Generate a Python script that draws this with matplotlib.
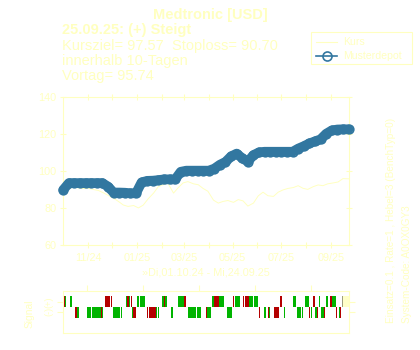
import matplotlib
matplotlib.use("Agg")
import matplotlib.pyplot as plt
from matplotlib.patches import Rectangle
from matplotlib.lines import Line2D
import datetime as dt

plt.rcParams['font.family'] = ['Liberation Sans', 'DejaVu Sans']

# ---------------- data ----------------
start_date = dt.date(2024, 10, 1)
end_date = dt.date(2025, 9, 24)

kurs_days = [0, 6, 12, 19, 25, 31, 38, 44, 50, 56, 63, 69, 75, 81, 88, 94, 100, 106,
             113, 119, 125, 131, 138, 144, 150, 156, 163, 169, 175, 181, 188, 194, 200,
             206, 213, 219, 225, 231, 238, 244, 250, 256, 263, 269, 275, 281, 288, 294,
             300, 306, 313, 319, 325, 331, 338, 344, 350, 357]
kurs_values = [88.5, 90.0, 91.3, 90.8, 90.4, 90.6, 89.9, 89.4, 88.2, 86.8, 85.2, 83.5,
               81.6, 80.8, 81.3, 80.0, 81.5, 84.8, 88.0, 91.5, 92.5, 93.3, 88.0, 91.0,
               93.5, 94.2, 93.0, 92.5, 90.5, 89.0, 84.2, 82.6, 83.5, 84.0, 83.0, 84.5,
               83.8, 81.0, 82.6, 86.5, 88.5, 86.6, 86.2, 88.5, 89.7, 90.5, 91.0, 92.0,
               90.6, 90.0, 91.5, 92.4, 92.0, 93.0, 93.5, 94.0, 95.8, 95.7]

depot_days = list(range(0, 358, 7))
depot_values = [89.8, 93.4, 93.4, 93.4, 93.4, 93.4, 93.4, 93.4,
                91.5, 88.3, 88.3, 88.2, 87.9, 87.9,
                93.8, 94.6, 94.7, 95.0, 95.4, 95.4, 95.4,
                99.5, 100.1, 100.1, 100.1, 100.1, 100.1,
                101.2, 103.3, 104.8, 107.8, 109.3, 106.8, 105.0, 108.5, 110.0,
                110.3, 110.3, 110.3, 110.3, 110.3, 110.3,
                112.0, 113.3, 114.8, 115.9, 117.0, 120.0, 121.8, 122.3, 122.4, 122.4]

# signal segments: start day, end day, kind (g / r / n / x); plus row and minus row
plus_start = [0, 2, 8, 52, 60, 78, 80, 82, 85, 92, 96, 124, 126, 127, 144, 151, 186, 189,
              191, 195, 212, 215, 225, 227, 232, 239, 271, 287, 303, 313, 320, 329, 334,
              336, 349, 350]
plus_end = [2, 4, 11, 58, 61, 80, 82, 83, 86, 95, 102, 126, 127, 130, 151, 154, 189, 191,
            195, 201, 214, 221, 226, 232, 237, 244, 274, 291, 308, 315, 321, 331, 336,
            341, 350, 358]
plus_kind = ['r', 'g', 'g', 'r', 'r', 'g', 'r', 'g', 'r', 'g', 'g', 'g', 'r', 'g', 'g', 'r',
             'g', 'r', 'r', 'g', 'r', 'g', 'r', 'r', 'g', 'g', 'r', 'g', 'g', 'r', 'g', 'g',
             'r', 'g', 'n', 'x']
minus_start = [15, 17, 30, 36, 47, 49, 62, 72, 86, 87, 105, 107, 116, 119, 135, 156, 167,
               179, 180, 205, 245, 251, 256, 257, 264, 276, 277, 293, 299, 307, 310, 315,
               318, 323, 326, 327, 341, 345, 346, 347]
minus_end = [17, 20, 35, 47, 49, 50, 71, 74, 87, 91, 106, 116, 117, 120, 137, 166, 172,
             180, 185, 211, 246, 254, 257, 259, 270, 277, 278, 298, 300, 309, 311, 318,
             319, 326, 327, 328, 342, 346, 347, 348]
minus_kind = ['r', 'g', 'g', 'g', 'r', 'g', 'g', 'g', 'g', 'r', 'r', 'r', 'g', 'g', 'g', 'g',
              'g', 'r', 'g', 'g', 'r', 'g', 'r', 'g', 'r', 'g', 'r', 'g', 'g', 'r', 'g', 'g',
              'r', 'g', 'r', 'g', 'r', 'g', 'r', 'g']

y_ticks = [60, 80, 100, 120, 140]
x_tick_labels = ['11/24', '', '01/25', '', '03/25', '', '05/25', '', '07/25', '', '09/25']
signal_tick_days = [30, 100, 170, 240, 310]

title = 'Medtronic [USD]'
head_bold = '25.09.25: (+) Steigt'
head_lines = ['Kursziel= 97.57  Stoploss= 90.70', 'innerhalb 10-Tagen', 'Vortag= 95.74']
x_label = '»Di,01.10.24 - Mi,24.09.25'
side1 = 'Einsatz=0.1 , Rate=1 , Hebel=3 (BenchTyp=0)'
side2 = 'System-Code: A0OX0GY3'

# ---------------- style ----------------
PALE = '#FFFFC0'
BLUE = '#3277A0'
GREEN = '#00B400'
RED = '#B40000'
KIND_COL = {'g': GREEN, 'r': RED, 'n': '#A0A080', 'x': '#FFFFC8'}

W, H = 420, 350
fig = plt.figure(figsize=(4.2, 3.5), dpi=100)
fig.patch.set_facecolor('white')


def fx(px):
    return px / W


def fy(py):
    return 1 - py / H


def to_date(d):
    return start_date + dt.timedelta(days=d)


L, R = 63.3, 349.3
ax = fig.add_axes([fx(L), fy(245), fx(R - L), (245 - 96.7) / H])
axs = fig.add_axes([fx(L), fy(332.7), fx(R - L), (332.7 - 291) / H])

for a in (ax, axs):
    a.set_facecolor('white')
    for s in a.spines.values():
        s.set_color(PALE)
        s.set_linewidth(0.8)

# main plot
kd = [to_date(d) for d in kurs_days]
ax.plot(kd, kurs_values, color=PALE, lw=0.7, zorder=2)
dd = [to_date(d) for d in depot_days]
ax.plot(dd, depot_values, color=BLUE, lw=7, solid_capstyle='round',
        solid_joinstyle='round', zorder=3, clip_on=False)
ax.plot(dd, depot_values, ls='none', marker='o', ms=6.2, mfc='none', mec=BLUE,
        mew=1.2, zorder=4, clip_on=False)

ax.set_xlim(start_date, end_date)
ax.set_ylim(60, 140)
month_ticks = []
y, m = 2024, 11
for _ in range(11):
    month_ticks.append(dt.date(y, m, 1))
    m += 1
    if m > 12:
        m, y = 1, y + 1
ax.set_xticks(month_ticks)
ax.set_xticklabels(x_tick_labels)
ax.set_yticks(y_ticks)
ax.set_yticklabels([str(v) for v in y_ticks])
ax.tick_params(axis='both', colors=PALE, labelcolor=PALE, direction='inout', length=4,
               width=0.8, labelsize=7.8, top=True, right=True)
ax.tick_params(axis='x', pad=4)
ax.tick_params(axis='y', pad=3)

# signal panel
for starts, ends, kinds, row in ((plus_start, plus_end, plus_kind, 1),
                                 (minus_start, minus_end, minus_kind, 0)):
    bottom = 0.55 if row == 1 else -0.62
    height = 1.12 if row == 1 else 1.17
    for s0, e0, k in zip(starts, ends, kinds):
        axs.bar(to_date(s0), height, width=dt.timedelta(days=e0 - s0), bottom=bottom,
                align='edge', color=KIND_COL[k], linewidth=0)
axs.set_xlim(start_date, end_date)
axs.set_ylim(-2.16, 2.16)
axs.set_yticks([1, 0])
axs.set_yticklabels(['(+)', '(-)'], rotation=90, va='center')
axs.set_xticks([to_date(d) for d in signal_tick_days])
axs.tick_params(axis='x', bottom=False, top=True, labelbottom=False, colors=PALE,
                direction='out', length=4, width=0.8)
axs.tick_params(axis='y', left=True, right=True, colors=PALE, labelcolor=PALE,
                direction='out', length=4, width=0.8, labelsize=6.6, pad=3)

# texts
fig.text(fx(210), fy(19), title, ha='center', va='baseline', fontsize=10.5,
         fontweight='bold', color=PALE)
fig.text(fx(61.7), fy(34), head_bold, ha='left', va='baseline', fontsize=10.5,
         fontweight='bold', color=PALE)
for i, t in enumerate(head_lines):
    fig.text(fx(61.7), fy(50 + 15 * i), t, ha='left', va='baseline', fontsize=10.5,
             color=PALE)
fig.text(fx(206), fy(272.3), x_label, ha='center', va='center', fontsize=7.8, color=PALE)
fig.text(fx(390.7), fy(323), side1, ha='center', va='bottom', rotation=90,
         fontsize=7.2, color=PALE)
fig.text(fx(407.3), fy(323), side2, ha='center', va='bottom', rotation=90,
         fontsize=7.2, color=PALE)
fig.text(fx(30), fy(313.5), 'Signal', ha='center', va='center', rotation=90,
         fontsize=7.4, color=PALE)

# legend (drawn manually)
fig.add_artist(Rectangle((fx(310.7), fy(64.3)), fx(412.3 - 310.7), (64.3 - 32.3) / H,
                         transform=fig.transFigure, fill=False, edgecolor=PALE, lw=0.8))
fig.add_artist(Line2D([fx(316), fx(337)], [fy(41.7), fy(41.7)], transform=fig.transFigure,
                      color=PALE, lw=0.8))
fig.add_artist(Line2D([fx(316), fx(337)], [fy(55.7), fy(55.7)], transform=fig.transFigure,
                      color=BLUE, lw=1.2))
fig.add_artist(Line2D([fx(326.5)], [fy(55.7)], transform=fig.transFigure, color=BLUE,
                      marker='o', ms=6.5, mfc='none', mew=1.2))
fig.text(fx(343), fy(41.7), 'Kurs', ha='left', va='center', fontsize=7.6, color=PALE)
fig.text(fx(343), fy(55.7), 'Musterdepot', ha='left', va='center', fontsize=7.6, color=PALE)

fig.savefig('out.png', dpi=100, facecolor='white')
